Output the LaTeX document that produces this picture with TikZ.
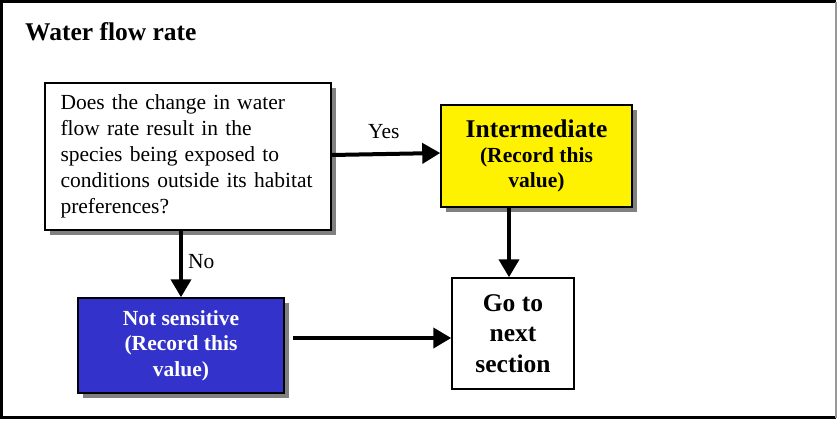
\documentclass[tikz,border=0pt]{standalone}
\usepackage{fontspec}
\setmainfont{Liberation Serif}
\usetikzlibrary{arrows.meta,shadows}

\tikzset{
  box/.style={draw=black, line width=1.5pt, inner sep=0pt, align=center},
  shadowed/.style={drop shadow={shadow xshift=5pt, shadow yshift=-5pt, fill=black!50, opacity=1}},
  flow/.style={line width=4pt, -{Triangle[length=18pt,width=20pt]}},
  lbl/.style={font=\fontsize{21.5}{26}\selectfont, inner sep=0pt, anchor=base west},
}

\begin{document}
\begin{tikzpicture}[x=1pt, y=-1pt]
  \useasboundingbox (0,0) rectangle (837,423);

  % outer frame
  \fill[white] (0,0) rectangle (837,423);
  \draw[line width=3pt] (836,1.5) -- (1.5,1.5) -- (1.5,417.5) -- (836,417.5);
  \draw[black!40, line width=2pt] (836,1.5) -- (836,417.5);

  % heading
  \node[font=\fontsize{25.5}{30}\selectfont\bfseries, anchor=base west, inner sep=0pt]
    (title) at (25,40) {Water flow rate};

  % question
  \node[box, shadowed, fill=white, minimum width=286pt, minimum height=147pt,
        text width=255pt, align=left, font=\fontsize{21.5}{26}\selectfont]
    (q) at (188,156.5)
    {Does the change in water\\ flow rate result in the\\ species being exposed to\\
     conditions outside its habitat\\ preferences?};

  % outcome: intermediate
  \node[box, shadowed, fill=yellow, minimum width=191pt, minimum height=102pt,
        font=\fontsize{21.5}{25}\selectfont\bfseries]
    (inter) at (536.5,156)
    {{\fontsize{25.5}{25}\selectfont Intermediate}\\ (Record this\\ value)};

  % outcome: not sensitive
  \node[box, shadowed, fill={rgb,255:red,51;green,51;blue,204}, text=white,
        minimum width=206pt, minimum height=95pt,
        font=\fontsize{21.5}{25.5}\selectfont\bfseries]
    (ns) at (181,345.5)
    {Not sensitive\\ (Record this\\ value)};

  % next step
  \node[box, fill=white, minimum width=122pt, minimum height=111pt,
        font=\fontsize{25.5}{30.5}\selectfont\bfseries]
    (go) at (513,333.5)
    {Go to\\ next\\ section};

  % connectors
  \draw[flow] ([yshift=1.5pt]q.east) -- ([yshift=3pt]inter.west);
  \draw[flow] (q.south -| ns.north) -- (ns.north);
  \draw[flow] (inter.south -| 509,0) -- (go.north -| 509,0);
  \draw[flow] ([xshift=8pt]ns.east |- 0,338) -- (go.west |- 0,338);

  % branch labels
  \node[lbl] (yes) at (368,138) {Yes};
  \node[lbl] (no) at (188,268) {No};
\end{tikzpicture}
\end{document}
